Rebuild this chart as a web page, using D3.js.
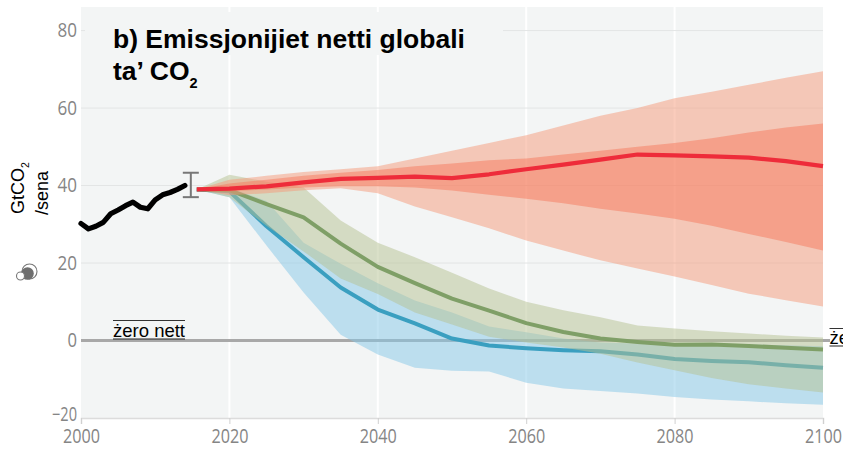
<!DOCTYPE html>
<html>
<head>
<meta charset="utf-8">
<script src="https://cdn.jsdelivr.net/npm/d3@7"></script>
<style>
html,body{margin:0;padding:0;background:#fff;overflow:hidden}
svg{display:block}
</style>
</head>
<body>
<svg id="c" width="843" height="450"></svg>
<script>
const histYears = [2000,2001,2002,2003,2004,2005,2006,2007,2008,2009,2010,2011,2012,2013,2014];
const histValues = [30.2,28.8,29.5,30.5,32.7,33.7,34.8,35.7,34.4,34,36.3,37.6,38.2,39,40];
const projYears = [2015.6,2020,2025,2030,2035,2040,2045,2050,2055,2060,2065,2070,2075,2080,2085,2090,2095,2100];
const redLine  = [39,39.2,39.8,40.8,41.7,42,42.3,41.9,42.9,44.2,45.4,46.7,48,47.8,47.5,47.2,46.3,45];
const redOutHi = [39,41.5,42.5,43.5,44.2,45,47,49,51,53,55.5,58,60,62.5,64.2,66,67.8,69.5];
const redInHi  = [39,40.5,41.5,42.5,43.3,44,45,45.7,46.5,47,48,49,50,51,52.2,53.7,55,56];
const redInLo  = [39,38.5,39,39.5,39.8,39.8,39.5,38.7,37.6,36.6,35.4,34,32.8,31.4,29.6,27.5,25.4,23.2];
const redOutLo = [39,37.5,38,38.8,39.3,38,34.6,31.8,29,25.8,23.2,20.7,18.6,16.5,14.3,12.1,10.4,8.8];
const greenLine = [39,38.8,35.2,31.8,25,19,14.8,10.8,7.7,4.5,2.2,0.5,-0.4,-1.1,-1,-1.4,-1.9,-2.3];
const greenHi   = [39,42.8,41,39.5,31,25.2,21.5,17.5,13.4,10,7.8,6,3.9,3.1,2.4,1.8,1.2,0.8];
const greenLo   = [39,37,29.6,23,16,12,7.2,4.1,1,-0.5,-1.8,-3.4,-5.7,-7.7,-9.7,-11.3,-12.4,-13.4];
const blueLine = [39,38.5,29.5,21.5,13.7,8,4.4,0.5,-1.3,-2,-2.5,-2.8,-3.6,-4.8,-5.3,-5.6,-6.4,-7];
const blueHi   = [39,39.5,36,25.2,19.8,14.8,10.3,7.2,3.6,2.1,0.5,-0.5,-0.8,-1,-1,-1,-1.2,-1.5];
const blueLo   = [39,37,24.5,12.4,1.5,-3.6,-7,-7.8,-8,-10.9,-12.4,-13,-13.7,-14.6,-15.2,-15.7,-16.2,-16.6];
const errorBar = {year:2014.8, lo:37, hi:43.3};
const xTicks = [2000,2020,2040,2060,2080,2100];
const yTicks = [-20,0,20,40,60,80];
const titleLine1 = "b) Emissjonijiet netti globali";
const zeroLabel = "żero nett";

const svg = d3.select("#c");
const x = d3.scaleLinear().domain([2000,2100]).range([81,823]);
const y = d3.scaleLinear().domain([-20,86]).range([418,7.3]);

svg.append("rect").attr("x",81).attr("y",7).attr("width",742).attr("height",411).attr("fill","#f3f5f5");

// grid
svg.append("g").selectAll("line").data(xTicks.slice(1,-1)).join("line")
  .attr("x1",d=>x(d)).attr("x2",d=>x(d)).attr("y1",7).attr("y2",418)
  .attr("stroke","#fff").attr("stroke-width",2);
svg.append("g").selectAll("line").data(yTicks.filter(d=>d!==0&&d!==-20)).join("line")
  .attr("x1",81).attr("x2",823).attr("y1",d=>y(d)).attr("y2",d=>y(d))
  .attr("stroke","#e3e5e5").attr("stroke-width",1);
// title backing patch
svg.append("rect").attr("x",85).attr("y",12).attr("width",418).attr("height",43).attr("fill","#f3f5f5");

// zero line
svg.append("line").attr("x1",81).attr("x2",830).attr("y1",y(0)).attr("y2",y(0))
  .attr("stroke","#a8a8a8").attr("stroke-width",3);

// axes
const numFont = "'Open Sans',sans-serif";
const xAxis = svg.append("g").attr("transform","translate(0,418)")
  .call(d3.axisBottom(x).tickValues(xTicks).tickFormat(d3.format("d")).tickSize(6).tickPadding(5));
xAxis.select(".domain").attr("stroke","#dcdcdc").attr("stroke-width",1.5);
xAxis.selectAll(".tick line").attr("stroke","#d0d0d0");
xAxis.selectAll("text").attr("fill","#858585").attr("font-family",numFont).attr("font-size",19.5)
  .attr("textLength",37).attr("lengthAdjust","spacingAndGlyphs");
const yAxis = svg.append("g").attr("transform","translate(81,0)")
  .call(d3.axisLeft(y).tickValues(yTicks).tickFormat(d3.format("d")).tickSize(0).tickPadding(4));
yAxis.select(".domain").remove();
yAxis.selectAll("text").attr("fill","#858585").attr("font-family",numFont).attr("font-size",19.5)
  .attr("lengthAdjust","spacingAndGlyphs")
  .attr("textLength",d=>d===0?9.5:(d<0?25:19.5))
  .attr("y",d=>d<0?-3.5:0);

const area = (hi,lo)=>d3.area().x((d,i)=>x(projYears[i])).y0((d,i)=>y(lo[i])).y1((d,i)=>y(hi[i]))(projYears);
const line = (vals,xs)=>d3.line().x((d,i)=>x(xs[i])).y(d=>y(d)).curve(d3.curveLinear)(vals);
const band=(hi,lo,fill)=>svg.append("path").attr("d",area(hi,lo)).attr("fill",fill).attr("fill-opacity",.5);
const stroke=(vals,xs,col,w)=>svg.append("path").attr("d",line(vals,xs)).attr("fill","none").attr("stroke",col).attr("stroke-width",w).attr("stroke-linejoin","round");

band(blueHi,blueLo,"#85c7e7");
stroke(blueLine,projYears,"#3a9fc0",4);
band(greenHi,greenLo,"#b5c191");
stroke(greenLine,projYears,"#7f9f67",4);
band(redOutHi,redOutLo,"#f59979");
band(redInHi,redInLo,"#f67a5d");
stroke(redLine,projYears,"#ee2c3a",4.2);

// history
stroke(histValues,histYears,"#000",5.2).attr("stroke-linecap","round");

// error bar
const eb = svg.append("g").attr("stroke","#777").attr("stroke-width",2).attr("fill","none");
const ex = x(errorBar.year);
eb.append("line").attr("x1",ex).attr("x2",ex).attr("y1",y(errorBar.lo)).attr("y2",y(errorBar.hi));
[errorBar.lo,errorBar.hi].forEach(v=>eb.append("line").attr("x1",ex-8).attr("x2",ex+8).attr("y1",y(v)).attr("y2",y(v)));

// title
const sans="'Liberation Sans',Arial,sans-serif";
svg.append("text").attr("x",113).attr("y",48).attr("font-family",sans).attr("font-weight",700).attr("font-size",26.5).attr("fill","#000").text(titleLine1);
const t2=svg.append("text").attr("x",113).attr("y",80).attr("font-family",sans).attr("font-weight",700).attr("font-size",26.5).attr("fill","#000");
t2.append("tspan").text("ta’ CO");
t2.append("tspan").attr("dy",8).attr("font-size",14.5).text("2");

// y label
const yl=svg.append("text").attr("transform","translate(23.5,214) rotate(-90)").attr("font-family",sans).attr("font-size",18).attr("fill","#000");
yl.append("tspan").text("GtCO");
yl.append("tspan").attr("dy",5).attr("font-size",10.5).text("2");
svg.append("text").attr("transform","translate(48,215) rotate(-90)").attr("font-family",sans).attr("font-size",18).attr("fill","#000").text("/sena");

// icon
const ic=svg.append("g");
ic.append("circle").attr("cx",29.5).attr("cy",271.5).attr("r",7.5).attr("fill","#fff").attr("stroke","#777").attr("stroke-width",1.1);
ic.append("circle").attr("cx",27.5).attr("cy",273.5).attr("r",6.3).attr("fill","#6f6f6f");
ic.append("circle").attr("cx",20.5).attr("cy",276).attr("r",4).attr("fill","#fff").attr("stroke","#777").attr("stroke-width",1.1);

// zero labels
function zero(xp,base,over,under,w){
  svg.append("text").attr("x",xp).attr("y",base).attr("font-family",sans).attr("font-size",18.5).attr("fill","#000").text(zeroLabel);
  svg.append("line").attr("x1",xp).attr("x2",xp+w).attr("y1",over).attr("y2",over).attr("stroke","#333");
  svg.append("line").attr("x1",xp).attr("x2",xp+w).attr("y1",under).attr("y2",under).attr("stroke","#222").attr("stroke-width",1.2);
}
zero(113,337,320.5,339,72);
zero(829.5,344,328.5,346,72);
</script>
</body>
</html>
